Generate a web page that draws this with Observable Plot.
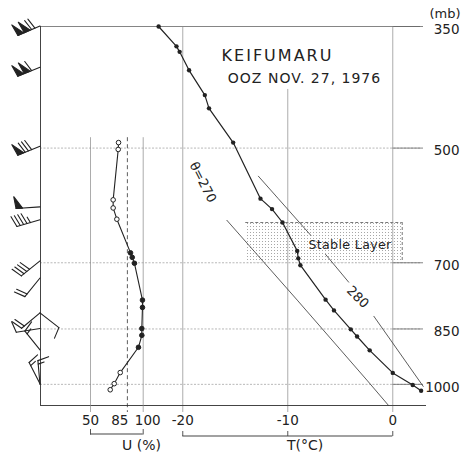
<!DOCTYPE html>
<html><head><meta charset="utf-8">
<script src="https://cdn.jsdelivr.net/npm/d3@7"></script>
<script src="https://cdn.jsdelivr.net/npm/@observablehq/plot@0.6"></script>
<style>
body{margin:0;background:#fff}
#chart{position:relative;width:462px;height:463px}
#chart svg{position:absolute;left:0;top:0}
</style>
</head><body><div id="chart"></div>
<script>
// ---- data ----
const tempP = [350, 371, 377, 398, 428, 445, 492, 580, 598, 622, 676, 691, 705, 780, 805, 851, 869, 905, 967, 1002, 1019];
const tempT = [-22.3, -20.6, -20.3, -19.4, -17.9, -17.5, -15.2, -12.6, -11.5, -10.5, -9.1, -9.0, -8.8, -6.4, -5.6, -4.0, -3.4, -2.2, 0.0, 1.9, 2.7];
const humP = [492, 502, 582, 596, 616, 680, 689, 701, 781, 798, 849, 866, 897, 966, 998, 1016];
const humU = [76.6, 76.3, 71.5, 71.5, 75.0, 88.0, 89.6, 91.7, 99.3, 99.3, 98.7, 98.7, 95.5, 78.2, 72.5, 68.7];
const windP = [350, 395, 498, 595, 618, 697, 733, 812, 812, 850, 905, 1000, 1002];
const windDir = [247, 248, 248, 266, 254, 231, 219, 230, 128, 261, 321, 333, 355];
const windSpd = [120, 110, 80, 50, 45, 40, 20, 20, 10, 10, 15, 15, 15];
const theta270P = [618, 781, 990, 1064];
const theta270T = [-15.8, -9.1, -2.4, -0.4];
const theta280Seg = [1, 1, 1, 2, 2, 3, 3];
const theta280P = [543, 580, 646, 683, 741, 819, 1006];
const theta280T = [-12.8, -10.9, -7.8, -6.4, -4.2, -1.8, 2.9];
const stableP = [622, 700];
const stableT = [-14, 0.9];
const pTicks = [350, 500, 700, 850, 1000];
const gridP = [500, 700, 850, 1000];
const tTicks = [-20, -10, 0];
const uTicks = [50, 85, 100];

// ---- tables ----
const temp = tempP.map((p, i) => ({p, t: tempT[i]}));
const hum = humP.map((p, i) => ({p, u: humU[i]}));
const th270 = theta270P.map((p, i) => ({p, t: theta270T[i]}));
const th280 = theta280P.map((p, i) => ({p, t: theta280T[i], seg: theta280Seg[i]}));
const stable = [{p1: stableP[0], p2: stableP[1], t1: stableT[0], t2: stableT[1]}];

const W = 462, H = 463;
const tMin = -33.55, tMax = 2.64, pMin = 350, pMax = 1064;
const M = {marginLeft: 40, marginRight: 42, marginTop: 26, marginBottom: 58};
const font = "DejaVu Sans, sans-serif";
const ink = "#222";
const style = {fontFamily: font, background: "transparent", overflow: "visible"};

function barbs(index, scales, values, dims) {
  const g = d3.create("svg:g").attr("stroke", ink).attr("fill", ink)
    .attr("stroke-width", 1.1).attr("stroke-linejoin", "round").attr("stroke-linecap", "round");
  const x0 = dims.marginLeft;
  windP.forEach((p, i) => {
    const y0 = scales.y(p);
    const a = windDir[i] * Math.PI / 180;
    const ux = Math.sin(a), uy = -Math.cos(a);
    const bx = -uy, by = ux;
    const L = 24, BL = 11;
    const tx = x0 + ux * L, ty = y0 + uy * L;
    g.append("line").attr("x1", x0).attr("y1", y0).attr("x2", tx).attr("y2", ty);
    let s = windSpd[i];
    const pen = Math.floor(s / 50); s -= pen * 50;
    const full = Math.floor(s / 10); s -= full * 10;
    const half = s >= 5 ? 1 : 0;
    const at = d => [tx - ux * d, ty - uy * d];
    let pos = 0;
    for (let k = 0; k < pen; k++) {
      const [ax, ay] = at(pos), [cx, cy] = at(pos + 6.5);
      g.append("path").attr("d", `M${ax},${ay}L${ax + bx * 12 + ux * 1.5},${ay + by * 12 + uy * 1.5}L${cx},${cy}Z`);
      pos += 7;
    }
    if (pen && (full || half)) pos += 1;
    for (let k = 0; k < full; k++) {
      const [ax, ay] = at(pos);
      g.append("line").attr("x1", ax).attr("y1", ay).attr("x2", ax + bx * BL + ux * 3).attr("y2", ay + by * BL + uy * 3);
      pos += 3.5;
    }
    if (half) {
      if (pos === 0) pos = 3.5;
      const [ax, ay] = at(pos);
      g.append("line").attr("x1", ax).attr("y1", ay).attr("x2", ax + bx * BL * 0.55 + ux * 1.6).attr("y2", ay + by * BL * 0.55 + uy * 1.6);
    }
  });
  return g.node();
}

const main = Plot.plot({
  width: W, height: H, ...M,
  x: {domain: [tMin, tMax], axis: null},
  y: {type: "log", domain: [pMin, pMax], reverse: true, axis: null},
  style,
  marks: [
    // stable layer
    Plot.rect(stable, {x1: "t1", x2: "t2", y1: "p1", y2: "p2", fill: "url(#dots)"}),
    Plot.ruleY(stable, {y: "p1", x1: "t1", x2: "t2", stroke: "#555", strokeWidth: 0.8, strokeDasharray: "3,2"}),
    Plot.ruleX(stable, {x: "t2", y1: "p1", y2: "p2", stroke: "#555", strokeWidth: 0.8, strokeDasharray: "3,2"}),
    // horizontal grid
    Plot.ruleY(gridP, {stroke: "#999", strokeWidth: 0.7, strokeDasharray: "2,1.5"}),
    Plot.ruleY(pTicks, {x1: 0, x2: tMax, stroke: "#666", strokeWidth: 0.8, insetRight: -3}),
    Plot.ruleY([pMin], {stroke: "#666", strokeWidth: 0.8}),
    // vertical grid
    Plot.ruleX([-20, 0], {stroke: "#888", strokeWidth: 0.7, insetBottom: -7}),
    Plot.ruleX([-10], {y1: 421, y2: pMax, stroke: "#888", strokeWidth: 0.7, insetBottom: -7}),
    // frame
    Plot.ruleX([tMin], {stroke: "#444", strokeWidth: 1}),
    Plot.ruleY([pMax], {stroke: "#444", strokeWidth: 1, insetRight: -6}),
    // potential temperature lines
    Plot.line(th270, {x: "t", y: "p", stroke: "#333", strokeWidth: 0.8}),
    Plot.line(th280, {x: "t", y: "p", z: "seg", stroke: "#333", strokeWidth: 0.8}),
    Plot.text([th270[0]], {x: "t", y: "p", text: () => "θ=270", rotate: 63, dx: -24, dy: -38, fontSize: 13, fill: ink}),
    Plot.text([th280[4]], {x: "t", y: "p", text: () => "280", rotate: 45, dx: 9, dy: 15, fontSize: 13, fill: ink}),
    // temperature profile
    Plot.line(temp, {x: "t", y: "p", stroke: ink, strokeWidth: 1.2}),
    Plot.dot(temp, {x: "t", y: "p", r: 2.2, fill: ink}),
    // stable layer label
    Plot.text(stable, {x: d => (d.t1 + d.t2) / 2, y: d => Math.sqrt(d.p1 * d.p2), text: () => "Stable Layer", dx: 26, dy: 2, fontSize: 12.5, fill: ink}),
    // winds
    barbs,
    // titles
    Plot.text(["KEIFUMARU"], {frameAnchor: "top-left", dx: 237, dy: 23, textAnchor: "middle", fontSize: 16, fill: ink}),
    Plot.text(["OOZ NOV. 27, 1976"], {frameAnchor: "top-left", dx: 264, dy: 47, textAnchor: "middle", fontSize: 14, fill: ink}),
    // pressure labels
    Plot.text(pTicks, {y: d => d, frameAnchor: "right", dx: 39, dy: 3, textAnchor: "end", text: d => String(d), fontSize: 13.5, fill: ink}),
    Plot.text(["(mb)"], {frameAnchor: "top-right", dx: 40, dy: -18, textAnchor: "end", fontSize: 13, fill: ink}),
    // temperature axis
    Plot.text(tTicks, {x: d => d, frameAnchor: "bottom", dy: 19, text: d => String(d), fontSize: 13.5, fill: ink}),
    Plot.ruleX(tTicks, {stroke: "#444", strokeWidth: 0.9, insetTop: 405, insetBottom: -31}),
    Plot.rect([tTicks], {x1: d => d3.min(d), x2: d => d3.max(d), insetTop: 409.5, insetBottom: -31.5, fill: "#444"}),
    Plot.text(["T(°C)"], {frameAnchor: "bottom-left", dx: 246.5, dy: 44, fontSize: 14, fill: ink})
  ]
});

const defs = d3.select(main).insert("defs", ":first-child");
const pat = defs.append("pattern").attr("id", "dots").attr("width", 3).attr("height", 3).attr("patternUnits", "userSpaceOnUse");
pat.append("circle").attr("cx", 1.5).attr("cy", 1.5).attr("r", 0.5).attr("fill", "#8a8a8a");

const uPlot = Plot.plot({
  width: W, height: H, ...M,
  x: {domain: [50, 100], range: [90, 142.7], axis: null},
  y: {type: "log", domain: [pMin, pMax], reverse: true, axis: null},
  style,
  marks: [
    Plot.ruleX([50, 100], {y1: 485, y2: pMax, stroke: "#888", strokeWidth: 0.7, insetBottom: -7}),
    Plot.ruleX([85], {y1: 485, y2: pMax, stroke: "#333", strokeWidth: 0.8, strokeDasharray: "4,3", insetBottom: -7}),
    Plot.line(hum, {x: "u", y: "p", stroke: ink, strokeWidth: 1.1}),
    Plot.dot(hum, {x: "u", y: "p", r: 2.3, fill: d => d.u > 85 ? ink : "#fff", stroke: ink, strokeWidth: 1}),
    Plot.text([uTicks[0]], {x: d => d, frameAnchor: "bottom", dy: 19, text: d => String(d), fontSize: 13.5, fill: ink}),
    Plot.text([uTicks[1]], {x: d => d, frameAnchor: "bottom", dy: 19, dx: 1, textAnchor: "end", text: d => String(d), fontSize: 13.5, fill: ink}),
    Plot.text([uTicks[2]], {x: d => d, frameAnchor: "bottom", dy: 19, dx: 4.5, text: d => String(d), fontSize: 13.5, fill: ink}),
    Plot.ruleX([uTicks[0], uTicks[2]], {stroke: "#444", strokeWidth: 0.9, insetTop: 403, insetBottom: -29.5}),
    Plot.rect([uTicks], {x1: d => d3.min(d), x2: d => d3.max(d), insetTop: 407.5, insetBottom: -29.5, fill: "#444"}),
    Plot.text(["U (%)"], {frameAnchor: "bottom-left", dx: 81.5, dy: 44, fontSize: 14, fill: ink})
  ]
});

const spacing = {"KEIFUMARU": 2, "OOZ NOV. 27, 1976": 1, "Stable Layer": 0.4};
[main, uPlot].forEach(svg => d3.select(svg).selectAll("text").each(function () {
  const s = spacing[this.textContent];
  if (s) this.setAttribute("letter-spacing", s);
}));

const chart = document.getElementById("chart");
chart.appendChild(main);
chart.appendChild(uPlot);
</script>
</body></html>
